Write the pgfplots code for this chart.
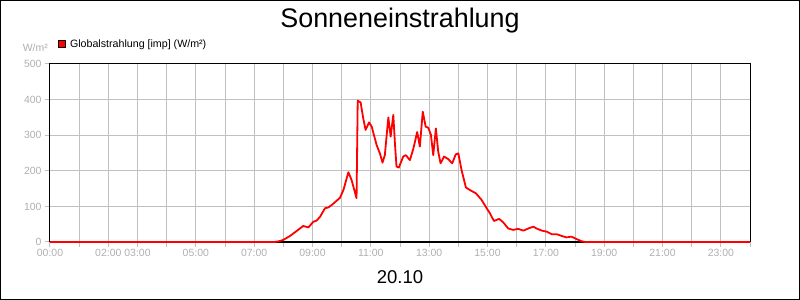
\documentclass[border=0pt]{standalone}
\usepackage{pgfplots}
\pgfplotsset{compat=1.18}
\usepackage{fontspec}
\setmainfont{Liberation Sans}
\definecolor{gridc}{RGB}{192,192,192}
\definecolor{tickc}{RGB}{175,175,175}
\definecolor{linec}{RGB}{255,0,0}
\begin{document}
\begin{tikzpicture}
\useasboundingbox (0,0) rectangle (800bp,300bp);
\draw[line width=1bp] (0.5bp,0.5bp) rectangle (799.5bp,299.5bp);
\node[anchor=base, font=\fontsize{27}{30}\selectfont, inner sep=0pt] at (400bp,272.7bp) {Sonneneinstrahlung};
\node[anchor=base, font=\fontsize{18.6}{21}\selectfont, inner sep=0pt] at (400bp,16.7bp) {20.10};
\node[anchor=east, text=tickc, font=\fontsize{10.5}{12}\selectfont, inner sep=0pt] at (48bp,252.5bp) {W/m²};
\begin{axis}[
  at={(50bp,58bp)}, anchor=south west,
  scale only axis, width=700bp, height=178bp,
  xmin=0, xmax=24, ymin=0, ymax=500,
  clip=false,
  xtick={0,1,...,24},
  xticklabels={00:00,,02:00,03:00,,05:00,,07:00,,09:00,,11:00,,13:00,,15:00,,17:00,,19:00,,21:00,,23:00,},
  ytick={0,100,...,500},
  grid=major,
  major grid style={gridc, line width=1bp},
  major tick length=5bp,
  tick align=outside,
  tick pos=left,
  tick style={gridc, line width=1bp},
  axis line style={black, line width=1bp},
  ticklabel style={font=\fontsize{10.5}{12}\selectfont, text=tickc},
  /pgf/number format/assume math mode=true,
  xticklabel style={yshift=1bp},
  legend style={draw=none, fill=none, at={(0.011,1.112)}, anchor=west, inner sep=0pt,
    font=\fontsize{10.7}{12}\selectfont, cells={anchor=west}},
  legend image code/.code={\draw[black, fill=linec, line width=0.5bp] (0bp,-3.5bp) rectangle (7.5bp,3.5bp); \path (9bp,0bp);},
]
\draw[black, line width=2bp] (axis cs:0,0) -- (axis cs:24,0);
\addplot[linec, line width=1.8bp, line join=round] coordinates {
(0,0) (7.7,0) (7.85,2) (8.0,6) (8.23,17) (8.57,38) (8.68,45) (8.86,41)
(9.03,57) (9.14,60) (9.26,71) (9.43,95) (9.54,97) (9.66,104) (9.94,124)
(10.06,146) (10.23,196) (10.34,174) (10.51,123) (10.55,397) (10.65,392)
(10.74,347) (10.82,315) (10.94,336) (11.03,324) (11.2,272) (11.31,249)
(11.40,223) (11.48,244) (11.6,350) (11.68,296) (11.77,357) (11.83,272)
(11.88,212) (11.96,209) (12.11,240) (12.2,244) (12.34,230) (12.46,263)
(12.59,309) (12.68,268) (12.78,366) (12.88,324) (12.97,321) (13.06,301)
(13.14,244) (13.23,319) (13.31,254) (13.39,221) (13.51,240) (13.65,233)
(13.79,221) (13.91,246) (14.0,249) (14.11,202) (14.26,153) (14.34,149)
(14.46,143) (14.6,137) (14.8,118) (14.97,95) (15.08,81) (15.22,59)
(15.4,65) (15.54,55) (15.71,38) (15.88,34) (16.05,37) (16.23,32)
(16.43,39) (16.57,43) (16.68,38) (16.86,32) (17.03,29) (17.2,22)
(17.37,22) (17.54,17) (17.71,13) (17.88,15) (18.06,8) (18.23,2)
(18.35,0) (24,0)
};
\addlegendentry{Globalstrahlung [imp] (W/m²)}
\end{axis}
\end{tikzpicture}
\end{document}
